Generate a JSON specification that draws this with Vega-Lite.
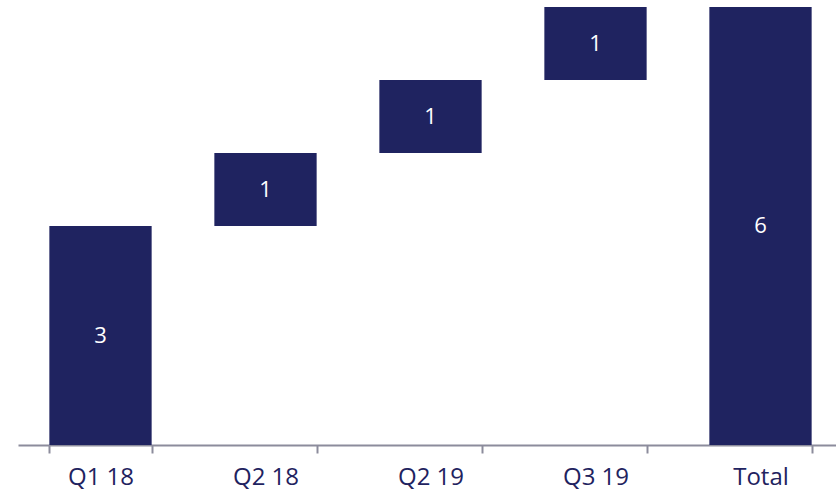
{
  "$schema": "https://vega.github.io/schema/vega-lite/v6.json",
  "width": 825,
  "height": 438,
  "autosize": {"type": "none"},
  "padding": {"left": 18, "top": 7, "right": 0, "bottom": 44},
  "background": "white",
  "config": {"view": {"stroke": null}},
  "data": {
    "values": [
      {"category": "Q1 18", "start": 0, "end": 3, "label": "3"},
      {"category": "Q2 18", "start": 3, "end": 4, "label": "1"},
      {"category": "Q2 19", "start": 4, "end": 5, "label": "1"},
      {"category": "Q3 19", "start": 5, "end": 6, "label": "1"},
      {"category": "Total", "start": 0, "end": 6, "label": "6"}
    ]
  },
  "transform": [{"calculate": "(datum.start + datum.end) / 2", "as": "mid"}],
  "encoding": {
    "x": {
      "field": "category",
      "type": "nominal",
      "sort": null,
      "scale": {"paddingInner": 0.38, "paddingOuter": 0.19},
      "axis": {
        "title": null,
        "domainColor": "#8C8C9C",
        "domainWidth": 2,
        "tickColor": "#8C8C9C",
        "tickWidth": 2,
        "tickSize": 8,
        "tickBand": "extent",
        "labelAngle": 0,
        "labelFont": "Open Sans",
        "labelFontSize": 24,
        "labelColor": "#1F2360",
        "labelBaseline": "top",
        "labelPadding": 12
      }
    }
  },
  "layer": [
    {
      "mark": {"type": "bar", "color": "#1F2360"},
      "encoding": {
        "y": {"field": "start", "type": "quantitative", "scale": {"domain": [0, 6], "nice": false}, "axis": null},
        "y2": {"field": "end"}
      }
    },
    {
      "mark": {"type": "text", "color": "white", "font": "Open Sans", "fontSize": 22, "baseline": "middle", "align": "center"},
      "encoding": {
        "y": {"field": "mid", "type": "quantitative", "scale": {"domain": [0, 6], "nice": false}, "axis": null},
        "text": {"field": "label"}
      }
    }
  ]
}
